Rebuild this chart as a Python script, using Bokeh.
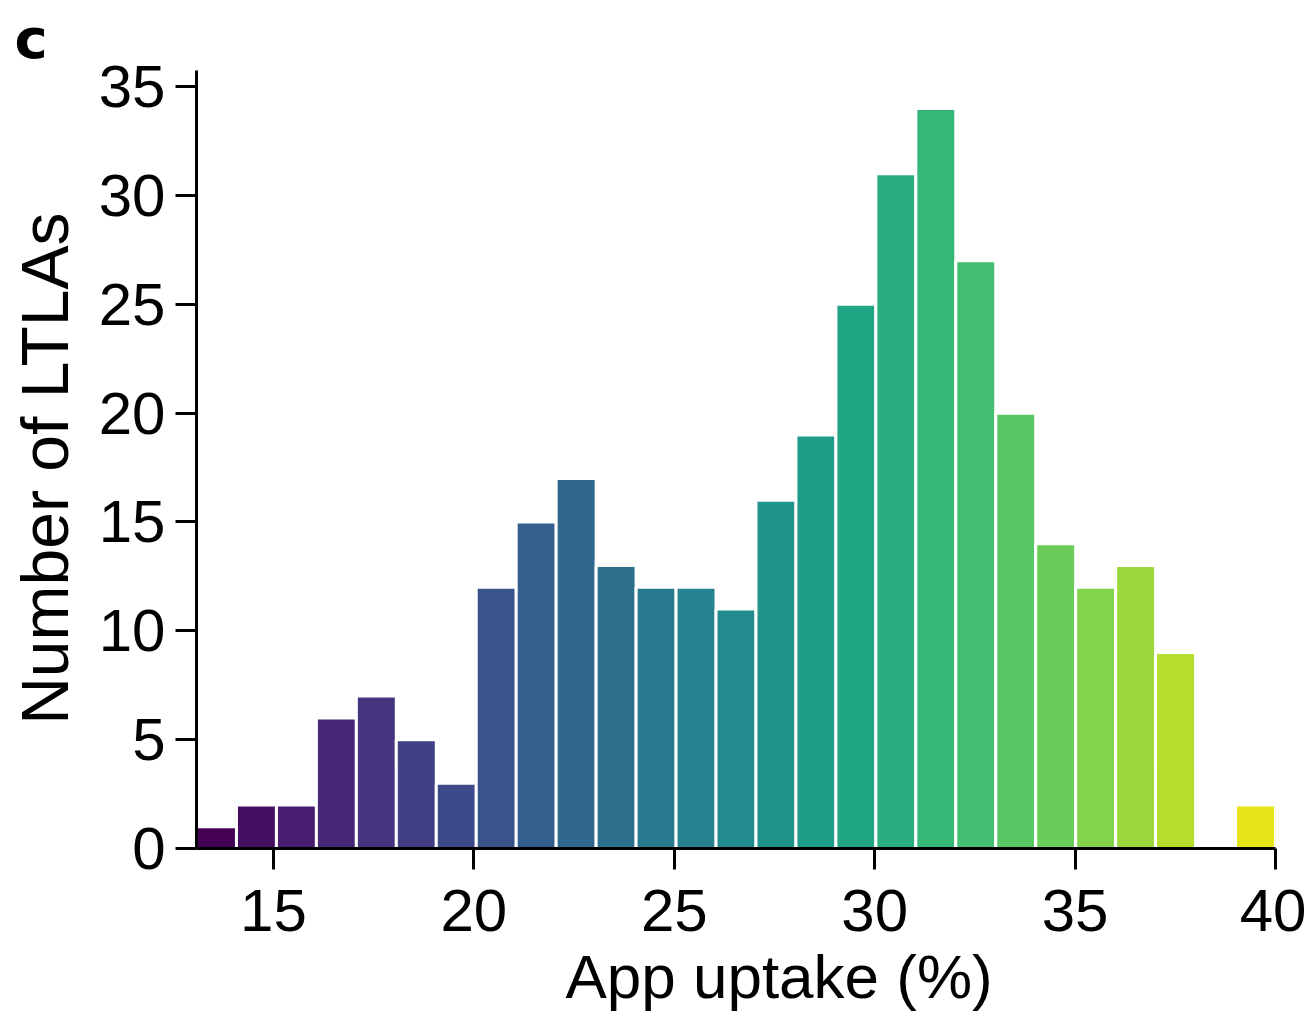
import numpy as np
from bokeh.plotting import figure
from bokeh.models import ColumnDataSource, FixedTicker, Range1d
from bokeh.palettes import Viridis256
from bokeh.embed import file_html
from bokeh.resources import INLINE

# Histogram data: app uptake (%) bins and number of LTLAs
bin_min = 13.08
bin_max = 40.0
counts = [1, 2, 2, 6, 7, 5, 3, 12, 15, 17, 13, 12, 12, 11, 16, 19, 25, 31, 34, 27, 20, 14, 12, 13, 9, 0, 2]
x_ticks = [15, 20, 25, 30, 35, 40]
y_ticks = [0, 5, 10, 15, 20, 25, 30, 35]

n = len(counts)
edges = np.linspace(bin_min, bin_max, n + 1)
colors = [Viridis256[int(round(i / n * 255))] for i in range(n)]
src = ColumnDataSource(dict(left=edges[:-1], right=edges[1:], top=counts,
                            bottom=[0] * n, color=colors))

FONT = "Liberation Sans"

p = figure(output_backend="svg", toolbar_location=None,
           frame_width=1079, frame_height=778,
           min_border_left=196, min_border_top=70, min_border_right=31, min_border_bottom=150,
           x_range=Range1d(bin_min, bin_max), y_range=Range1d(0, 35.74))

p.quad(left="left", right="right", top="top", bottom="bottom", source=src,
       fill_color="color", line_color="white", line_width=3)

p.xgrid.visible = False
p.ygrid.visible = False
p.outline_line_color = None
p.background_fill_color = "white"
p.border_fill_color = "white"

for ax in (p.xaxis[0], p.yaxis[0]):
    ax.axis_line_width = 3
    ax.axis_line_color = "black"
    ax.major_tick_line_width = 3
    ax.major_tick_line_color = "black"
    ax.major_tick_out = 21
    ax.major_tick_in = 0
    ax.minor_tick_line_color = None
    ax.major_label_text_font = FONT
    ax.major_label_text_font_size = "60px"
    ax.major_label_text_color = "black"
    ax.axis_label_text_font = FONT
    ax.axis_label_text_font_style = "normal"
    ax.axis_label_text_color = "black"

p.xaxis[0].axis_label_text_font_size = "62px"
p.yaxis[0].axis_label_text_font_size = "66px"
p.xaxis[0].ticker = FixedTicker(ticks=x_ticks)
p.yaxis[0].ticker = FixedTicker(ticks=y_ticks)
p.xaxis[0].axis_label = "\u00a0" * 5 + "App uptake (%)"
p.yaxis[0].axis_label = "Number of LTLAs" + "\u00a0"
p.xaxis[0].major_label_standoff = 20
p.xaxis[0].axis_label_standoff = 8
p.yaxis[0].major_label_standoff = 10
p.yaxis[0].axis_label_standoff = 14

# panel letter
p.title.text = "c"
p.title.text_font = "DejaVu Sans"
p.title.text_font_style = "bold"
p.title.text_font_size = "56px"
p.title.text_color = "black"
p.title.align = "left"
p.title.offset = -182
p.title.standoff = 0

open("out.html", "w").write(file_html(p, INLINE))
